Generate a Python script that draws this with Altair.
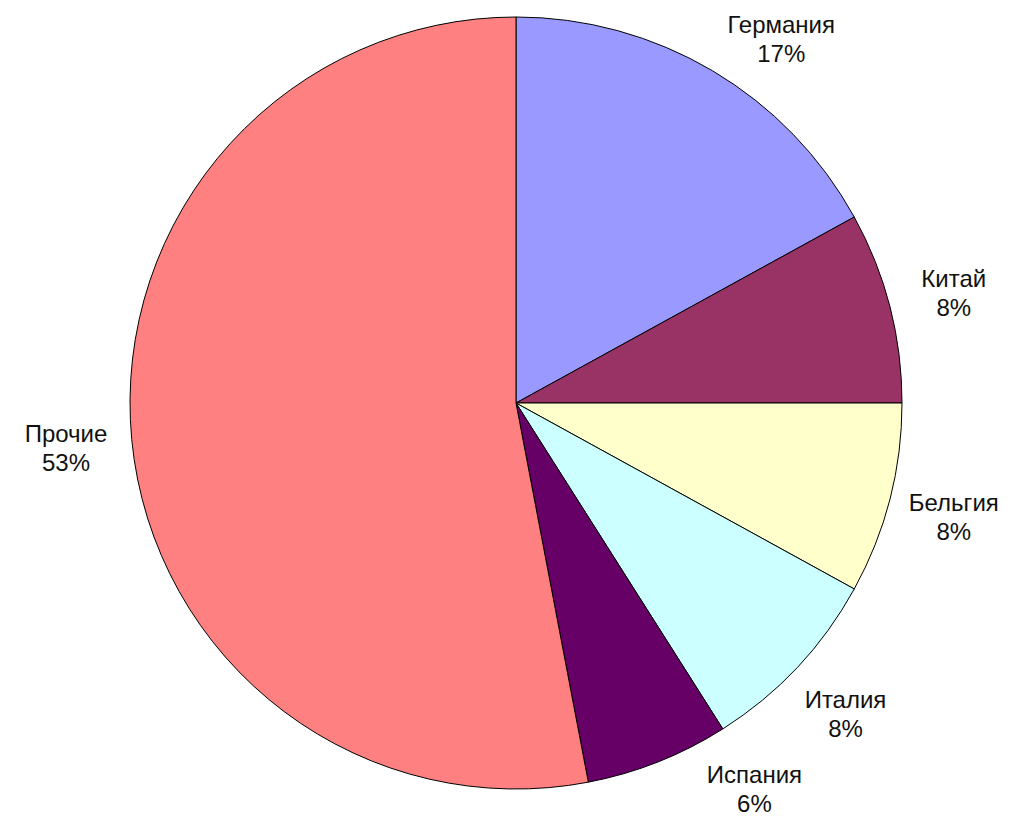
import altair as alt
import pandas as pd

countries = ["Германия", "Китай", "Бельгия", "Италия", "Испания", "Прочие"]
shares = [17, 8, 8, 8, 6, 53]
colors = ["#9999FF", "#993366", "#FFFFCC", "#CCFFFF", "#660066", "#FF8080"]

df = pd.DataFrame({"name": countries, "value": shares, "idx": list(range(len(countries)))})

CX, CY, R = 508, 395, 386   # pie centre (chart px) and radius
LR = 452                    # label radius
LH = 29                     # label line height
A = 366                     # highest label centre above the pie centre
B = 384                     # lowest label centre below the pie centre

base = alt.Chart(df)

pie = base.mark_arc(radius=R, stroke="black", strokeWidth=1, x=CX, y=CY).encode(
    theta=alt.Theta("value:Q", stack=True),
    order=alt.Order("idx:Q"),
    color=alt.Color("name:N", scale=alt.Scale(domain=countries, range=colors), legend=None),
)

# labels sit at the middle angle of each slice, sliding along the circle when
# they would otherwise leave the chart area at the top or bottom
top_a = f"acos({A} / {LR})"
bot_a = f"acos(-{B} / {LR})"
slide = (
    f"cos(datum.mid) > {A} / {LR} ? (datum.mid < PI ? {top_a} : 2 * PI - {top_a}) : "
    f"(cos(datum.mid) < -{B} / {LR} ? (datum.mid < PI ? {bot_a} : 2 * PI - {bot_a}) : datum.mid)"
)

labels = base.transform_joinaggregate(
    total="sum(value)"
).transform_window(
    cum="sum(value)", sort=[alt.SortField("idx")], frame=[None, 0]
).transform_calculate(
    mid="(datum.cum - datum.value / 2) / datum.total * 2 * PI"
).transform_calculate(
    ang=slide,
    label="datum.name + '\\n' + datum.value + '%'",
).mark_text(
    x=CX, y=CY, dy=-11, radius=LR, font="Liberation Sans", fontSize=24, lineHeight=LH,
    lineBreak="\n", align="center", baseline="middle", color="#111111",
).encode(
    theta=alt.Theta("ang:Q", scale=None),
    text="label:N",
)

chart = alt.layer(pie, labels).properties(
    width=1006, height=809, padding=0, autosize=alt.AutoSizeParams(type="none")
).configure_view(stroke=None)

chart.save("out.html", embed_options={"renderer": "svg", "actions": False})
